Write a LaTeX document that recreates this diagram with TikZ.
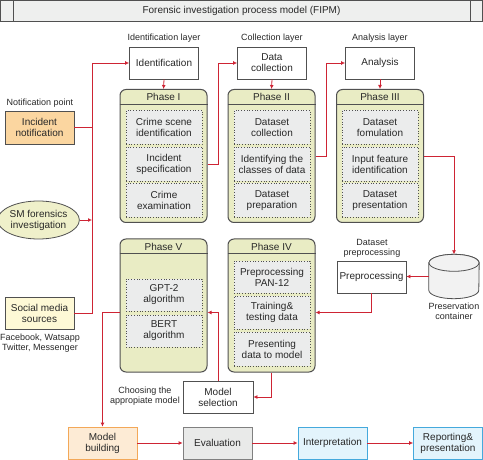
\documentclass[tikz,border=0pt]{standalone}
\usepackage{fontspec}
\setmainfont{Liberation Sans}
\usetikzlibrary{positioning, arrows.meta, shapes.geometric}

\definecolor{redline}{RGB}{206,36,52}
\definecolor{inkgray}{RGB}{40,40,40}
\definecolor{boxgray}{RGB}{80,80,80}
\definecolor{panelfill}{RGB}{233,236,196}
\definecolor{stepfill}{RGB}{235,236,236}
\definecolor{titlefill}{RGB}{238,239,238}
\definecolor{incfill}{RGB}{251,214,160}
\definecolor{smfill}{RGB}{239,240,202}
\definecolor{socfill}{RGB}{254,249,214}
\definecolor{buildfill}{RGB}{253,235,213}
\definecolor{buildline}{RGB}{243,168,88}
\definecolor{evalfill}{RGB}{233,234,233}
\definecolor{interfill}{RGB}{227,244,252}
\definecolor{interline}{RGB}{69,169,220}
\definecolor{cylfill}{RGB}{242,242,242}

\begin{document}
\begin{tikzpicture}[x=1pt, y=-1pt, font=\fontsize{10}{11}\selectfont, text=inkgray,
	box/.style={draw=boxgray, line width=0.8pt, fill=white, minimum width=69, minimum height=32, inner sep=1pt, align=center},
	phase/.style={draw=boxgray, line width=1pt, rounded corners=6pt, fill=panelfill, minimum width=87, minimum height=133},
	phasestep/.style={draw=boxgray, dotted, line width=0.7pt, fill=stepfill, minimum width=76, minimum height=34, inner sep=1pt, align=center},
	lbl/.style={font=\fontsize{9}{10}\selectfont, align=center},
	link/.style={draw=redline, line width=0.8pt},
	redarrow/.style={link, -{Latex[length=4pt, width=4pt]}}]
	\useasboundingbox (0,0) rectangle (483,460);
	\node[draw=boxgray, line width=0.8pt, fill=titlefill, minimum width=482, minimum height=21, inner sep=0pt] (title) at (241.5,11) {Forensic investigation process model (FIPM)};
	\draw[boxgray, line width=0.8pt] ([xshift=13pt]title.north west) -- ([xshift=13pt]title.south west);
	\draw[boxgray, line width=0.8pt] ([xshift=-13pt]title.north east) -- ([xshift=-13pt]title.south east);
	\node[lbl] (identl) at (164,38) {Identification layer};
	\node[lbl] (colll) at (272,38) {Collection layer};
	\node[lbl] (anall) at (380,38) {Analysis layer};
	\node[box] (ident) at (164,63) {Identification};
	\node[box] (coll) at (272,63) {Data\\collection};
	\node[box] (anal) at (380,63) {Analysis};
	\node[phase] (ph1) at (163.5,156) {};
	\node[phase] (ph2) at (271.5,156) {};
	\node[phase] (ph3) at (380,156) {};
	\node[phase] (ph4) at (271.5,305.5) {};
	\node[phase] (ph5) at (163.5,305.5) {};
	\node (ph1t) at ([yshift=-8pt]ph1.north) {Phase I};
	\node (ph2t) at ([yshift=-8pt]ph2.north) {Phase II};
	\node (ph3t) at ([yshift=-8pt]ph3.north) {Phase III};
	\node (ph4t) at ([yshift=-8pt]ph4.north) {Phase IV};
	\node (ph5t) at ([yshift=-8pt]ph5.north) {Phase V};
	\draw[boxgray, line width=0.8pt] ([yshift=-15pt]ph1.north west) -- ([yshift=-15pt]ph1.north east);
	\draw[boxgray, line width=0.8pt] ([yshift=-15pt]ph2.north west) -- ([yshift=-15pt]ph2.north east);
	\draw[boxgray, line width=0.8pt] ([yshift=-15pt]ph3.north west) -- ([yshift=-15pt]ph3.north east);
	\draw[boxgray, line width=0.8pt] ([yshift=-15pt]ph4.north west) -- ([yshift=-15pt]ph4.north east);
	\draw[boxgray, line width=0.8pt] ([yshift=-15pt]ph5.north west) -- ([yshift=-15pt]ph5.north east);
	\node[phasestep] (p1a) at (164,127.5) {Crime scene\\identification};
	\node[phasestep] (p1b) at (164,164) {Incident\\specification};
	\node[phasestep] (p1c) at (164,200.5) {Crime\\examination};
	\node[phasestep] (p2a) at (272,127.5) {Dataset\\collection};
	\node[phasestep] (p2b) at (272,164) {Identifying the\\classes of data};
	\node[phasestep] (p2c) at (272,200.5) {Dataset\\preparation};
	\node[phasestep] (p3a) at (380,127.5) {Dataset\\fomulation};
	\node[phasestep] (p3b) at (380,164) {Input feature\\identification};
	\node[phasestep] (p3c) at (380,200.5) {Dataset\\presentation};
	\node[phasestep, minimum height=32] (p4a) at (272,277) {Preprocessing\\PAN-12};
	\node[phasestep, minimum height=33] (p4b) at (272,312.5) {Training\&\\testing data};
	\node[phasestep] (p4c) at (272,349) {Presenting\\data to model};
	\node[phasestep, minimum height=32] (p5a) at (164,295) {GPT-2\\algorithm};
	\node[phasestep, minimum height=32] (p5b) at (164,331) {BERT\\algorithm};
	\node[lbl] (incl) at (40,103) {Notification point};
	\node[box, fill=incfill, minimum height=33] (inc) at (39.5,127.5) {Incident\\notification};
	\node[ellipse, draw=boxgray, line width=0.8pt, fill=smfill, minimum width=77, minimum height=38, inner sep=0pt, align=center] (sm) at (38.5,220) {SM forensics\\investigation};
	\node[box, fill=socfill] (soc) at (39.5,313) {Social media\\sources};
	\node[lbl] (socl) at (40,343) {Facebook, Watsapp\\Twitter, Messenger};
	\node[minimum width=50, minimum height=44, inner sep=0pt] (store) at (454,276.5) {};
	\draw[boxgray, line width=0.8pt, fill=cylfill] ([yshift=-8.5pt]store.north west) -- ([yshift=8.5pt]store.south west) arc[start angle=180, end angle=360, x radius=25pt, y radius=8.5pt] -- ([yshift=-8.5pt]store.north east) arc[start angle=0, end angle=180, x radius=25pt, y radius=8.5pt] -- cycle;
	\draw[boxgray, line width=0.8pt, fill=cylfill] ([yshift=-8.5pt]store.north) ellipse[x radius=25pt, y radius=8.5pt];
	\node[lbl] (storel) at (454,311) {Preservation\\container};
	\node[box] (prep) at (371.5,277) {Preprocessing};
	\node[lbl] (prepl) at (372,248) {Dataset\\preprocessing};
	\node[box, minimum width=70] (msel) at (218,397) {Model\\selection};
	\node[lbl] (msell) at (145,396) {Choosing the\\appropiate model};
	\node[box, draw=buildline, fill=buildfill] (build) at (102.5,443) {Model\\building};
	\node[box, draw=gray, fill=evalfill] (eval) at (217.5,443) {Evaluation};
	\node[box, draw=interline, fill=interfill] (inter) at (332.5,443) {Interpretation};
	\node[box, draw=interline, fill=interfill] (report) at (448,443) {Reporting\&\\presentation};
	\coordinate (spine) at (92,63);
	\draw[redarrow] (soc.east) -| (spine) -- (ident.west);
	\draw[link] (inc.east) -- (inc.east -| spine);
	\draw[redarrow] (sm.east) -- (sm.east -| spine);
	\draw[redarrow] (ident.south) -- (ph1.north);
	\draw[redarrow] (coll.south) -- (ph2.north);
	\draw[redarrow] (anal.south) -- (ph3.north);
	\draw[redarrow] (ph1.east |- p1b) -- ++(11,0) |- (coll.west);
	\draw[redarrow] (ph2.east) -- ++(11,0) |- (anal.west);
	\draw[redarrow] (ph3.east) -| (store.north);
	\draw[redarrow] (store.west) -- (store.west -| prep.east);
	\draw[redarrow] (prep.south) |- (ph4.east |- p4b);
	\draw[redarrow] (ph4.south) |- (msel.east);
	\draw[redarrow] (msel.north) |- (ph5.east |- p4b);
	\draw[redarrow] (ph5.west |- p4b) -| (build.north);
	\draw[redarrow] (build.east) -- (eval.west);
	\draw[redarrow] (eval.east) -- (inter.west);
	\draw[redarrow] (inter.east) -- (report.west);
\end{tikzpicture}
\end{document}
